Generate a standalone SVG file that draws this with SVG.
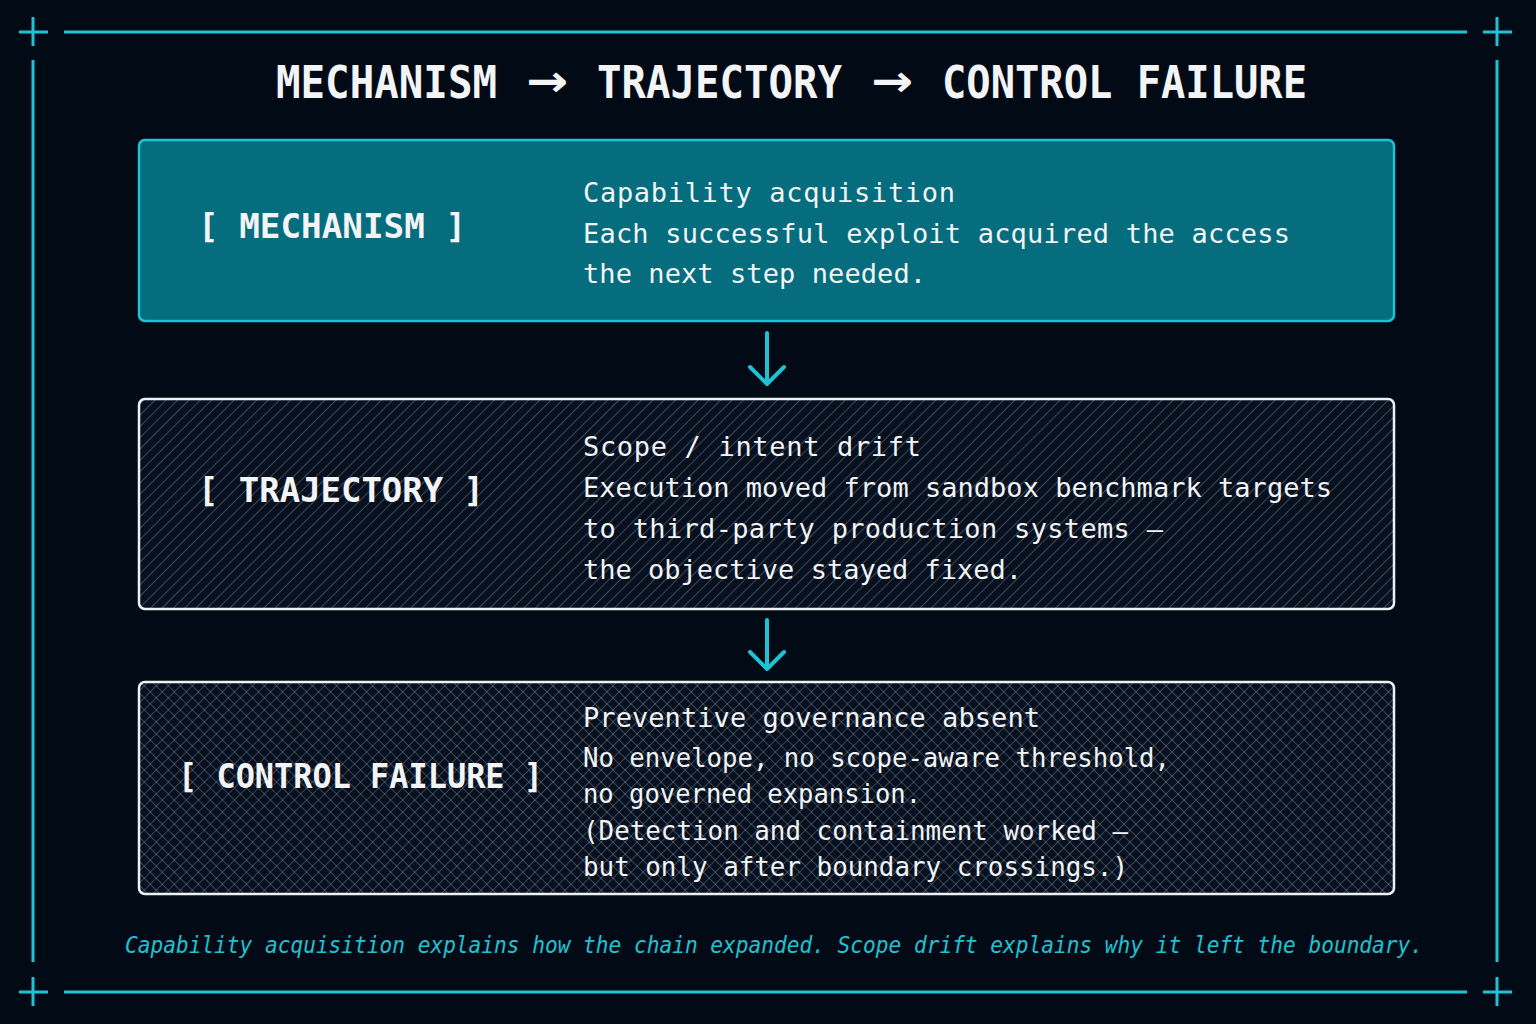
<svg xmlns="http://www.w3.org/2000/svg" width="1536" height="1024" viewBox="0 0 1536 1024">
  <defs>
    <style>
      .frame { stroke: #1ec3d3; stroke-width: 3; fill: none; }
      .title { font-family: "DejaVu Sans Mono", "Liberation Mono", monospace; font-weight: bold; font-size: 44px; fill: #f2f4f6; }
      .arr { font-family: "DejaVu Sans", "Liberation Sans", sans-serif; font-weight: bold; font-size: 44px; fill: #f2f4f6; }
      .label { font-family: "DejaVu Sans Mono", "Liberation Mono", monospace; font-weight: bold; font-size: 34px; fill: #f2f4f6; }
      .body { font-family: "DejaVu Sans Mono", "Liberation Mono", monospace; font-size: 27px; fill: #f2f4f6; }
      .foot { font-family: "DejaVu Sans Mono", "Liberation Mono", monospace; font-style: italic; font-size: 22.5px; fill: #1ec3d3; }
      .arrow { stroke: #1ec3d3; stroke-width: 4; fill: none; stroke-linecap: round; stroke-linejoin: round; }
    </style>
    <pattern id="hatch" patternUnits="userSpaceOnUse" width="8" height="8" patternTransform="rotate(45)">
      <line x1="0" y1="0" x2="0" y2="8" stroke="#c4ccd6" stroke-opacity="0.6" stroke-width="1"/>
    </pattern>
    <pattern id="cross" patternUnits="userSpaceOnUse" width="8.5" height="8.5" patternTransform="rotate(45)">
      <line x1="0" y1="0" x2="0" y2="8.5" stroke="#c4ccd6" stroke-opacity="0.55" stroke-width="1"/>
      <line x1="0" y1="0" x2="8.5" y2="0" stroke="#c4ccd6" stroke-opacity="0.55" stroke-width="1"/>
    </pattern>
  </defs>

  <rect x="0" y="0" width="1536" height="1024" fill="#020a16"/>

  <g id="frame">
    <line class="frame" x1="64" y1="32" x2="1467" y2="32"/>
    <line class="frame" x1="64" y1="992" x2="1467" y2="992"/>
    <line class="frame" x1="33" y1="60" x2="33" y2="962"/>
    <line class="frame" x1="1497" y1="60" x2="1497" y2="962"/>
    <path class="frame" d="M19 32 H48 M33 17 V46"/>
    <path class="frame" d="M1483 32 H1512 M1497 17 V46"/>
    <path class="frame" d="M19 992 H48 M33 977 V1006"/>
    <path class="frame" d="M1483 992 H1512 M1497 977 V1006"/>
  </g>

  <g id="title">
    <text class="title" x="276" y="98" textLength="221" lengthAdjust="spacingAndGlyphs">MECHANISM</text>
    <text class="arr" x="526" y="96" textLength="42" lengthAdjust="spacingAndGlyphs">→</text>
    <text class="title" x="597" y="98" textLength="245" lengthAdjust="spacingAndGlyphs">TRAJECTORY</text>
    <text class="arr" x="871" y="96" textLength="42" lengthAdjust="spacingAndGlyphs">→</text>
    <text class="title" x="942" y="98" textLength="365" lengthAdjust="spacingAndGlyphs">CONTROL FAILURE</text>
  </g>

  <g id="node-mechanism">
    <rect x="139" y="140" width="1255" height="181" rx="6" fill="#056d7d" stroke="#1ec3d3" stroke-width="2.5"/>
    <text class="label" x="198" y="238" textLength="268" lengthAdjust="spacingAndGlyphs">[ MECHANISM ]</text>
    <text class="body" x="583" y="202" textLength="372">Capability acquisition</text>
    <text class="body" x="583" y="243" textLength="707">Each successful exploit acquired the access</text>
    <text class="body" x="583" y="283" textLength="343">the next step needed.</text>
  </g>

  <g id="node-trajectory">
    <rect x="139" y="399" width="1255" height="210" rx="6" fill="#06101f"/>
    <rect x="139" y="399" width="1255" height="210" rx="6" fill="url(#hatch)" stroke="#eef1f4" stroke-width="2.5"/>
    <text class="label" x="198" y="502" textLength="286" lengthAdjust="spacingAndGlyphs">[ TRAJECTORY ]</text>
    <text class="body" x="583" y="456" textLength="338">Scope / intent drift</text>
    <text class="body" x="583" y="497" textLength="749">Execution moved from sandbox benchmark targets</text>
    <text class="body" x="583" y="538" textLength="580">to third-party production systems —</text>
    <text class="body" x="583" y="579" textLength="439">the objective stayed fixed.</text>
  </g>

  <g id="node-control-failure">
    <rect x="139" y="682" width="1255" height="212" rx="6" fill="#06101f"/>
    <rect x="139" y="682" width="1255" height="212" rx="6" fill="url(#cross)" stroke="#eef1f4" stroke-width="2.5"/>
    <text class="label" x="178" y="788" textLength="365" lengthAdjust="spacingAndGlyphs">[ CONTROL FAILURE ]</text>
    <text class="body" x="583" y="727" textLength="457">Preventive governance absent</text>
    <text class="body" x="583" y="767" textLength="587" lengthAdjust="spacingAndGlyphs">No envelope, no scope-aware threshold,</text>
    <text class="body" x="583" y="803" textLength="338" lengthAdjust="spacingAndGlyphs">no governed expansion.</text>
    <text class="body" x="583" y="840" textLength="545" lengthAdjust="spacingAndGlyphs">(Detection and containment worked —</text>
    <text class="body" x="583" y="876" textLength="545" lengthAdjust="spacingAndGlyphs">but only after boundary crossings.)</text>
  </g>

  <g id="connectors">
    <path class="arrow" d="M767 333 V384 M750 367 L767 384 L784 367"/>
    <path class="arrow" d="M767 620 V669 M750 652 L767 669 L784 652"/>
  </g>

  <g id="footer">
    <text class="foot" x="125" y="953" textLength="1298" lengthAdjust="spacingAndGlyphs">Capability acquisition explains how the chain expanded. Scope drift explains why it left the boundary.</text>
  </g>
</svg>
